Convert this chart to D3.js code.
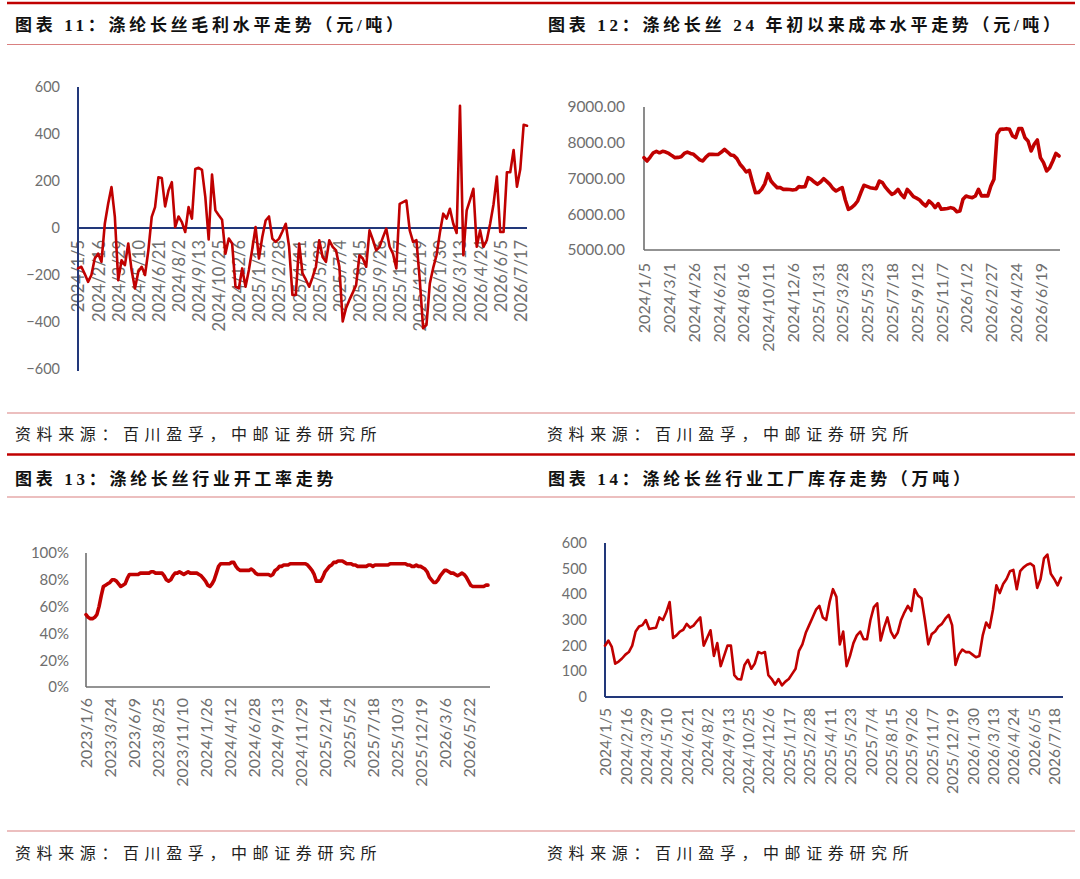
<!DOCTYPE html>
<html>
<head>
<meta charset="utf-8">
<script src="https://cdn.jsdelivr.net/npm/d3@7"></script>
<style>
  html, body { margin: 0; padding: 0; background: #fff; }
  svg { display: block; }
</style>
</head>
<body>
<svg id="chart" width="1080" height="879"></svg>
<script>
// ---------------- DATA ----------------
const titles = [
  "图表 11：涤纶长丝毛利水平走势（元/吨）",
  "图表 12：涤纶长丝 24 年初以来成本水平走势（元/吨）",
  "图表 13：涤纶长丝行业开工率走势",
  "图表 14：涤纶长丝行业工厂库存走势（万吨）"
];
const sourceText = "资料来源：百川盈孚，中邮证券研究所";

// Chart 11: gross margin (yuan/ton), weekly
const marginLabels = ["2024/1/5","2024/2/16","2024/3/29","2024/5/10","2024/6/21","2024/8/2","2024/9/13","2024/10/25","2024/12/6","2025/1/17","2025/2/28","2025/4/11","2025/5/23","2025/7/4","2025/8/15","2025/9/26","2025/11/7","2025/12/19","2026/1/30","2026/3/13","2026/4/24","2026/6/5","2026/7/17"];
const marginTicks = [-600,-400,-200,0,200,400,600];
const marginValues = [
  -172,-165,-195,-229,-200,-130,-109,-144,18,103,
  174,47,-222,-137,-158,-66,-180,-257,-186,-165,
  -200,-95,47,89,216,213,92,160,195,4,
  49,25,-17,89,40,251,256,247,131,-49,
  227,75,54,35,-109,-45,-66,-250,-257,-172,
  -250,-179,-90,4,-130,-38,32,49,-45,-59,
  -45,-15,18,-80,-285,-285,-66,-193,-220,-250,
  -210,-165,-52,-123,-144,-52,-80,-95,-165,-398,
  -340,-306,-275,-243,-116,-130,-165,-10,-50,-95,
  -80,-40,-3,-80,-109,-172,103,110,117,-10,
  -59,-52,-222,-426,-412,-236,-170,-116,-20,61,
  40,82,18,-21,520,-116,75,120,167,-80,
  -10,-80,-52,18,100,219,-17,-17,237,237,
  332,176,251,439,435
];

// Chart 12: cost level (yuan/ton), weekly since 2024
const costLabels = ["2024/1/5","2024/3/1","2024/4/26","2024/6/21","2024/8/16","2024/10/11","2024/12/6","2025/1/31","2025/3/28","2025/5/23","2025/7/18","2025/9/12","2025/11/7","2026/1/2","2026/2/27","2026/4/24","2026/6/19"];
const costTicks = [5000,6000,7000,8000,9000];
const costValues = [
  7583,7490,7600,7720,7760,7720,7760,7740,7700,7640,
  7583,7590,7611,7700,7741,7700,7676,7600,7520,7490,
  7600,7676,7680,7670,7676,7740,7816,7740,7660,7640,
  7555,7400,7300,7182,7228,6900,6604,6610,6700,6850,
  7135,6930,6830,6744,6744,6697,6700,6690,6678,6690,
  6772,6760,6772,7023,6977,6900,6837,6900,6995,6920,
  6837,6720,6650,6700,6744,6400,6138,6185,6260,6371,
  6600,6809,6780,6744,6730,6716,6930,6884,6750,6650,
  6557,6600,6697,6560,6464,6697,6600,6492,6450,6399,
  6300,6231,6371,6300,6185,6296,6138,6150,6160,6185,
  6160,6073,6091,6418,6511,6480,6464,6511,6697,6511,
  6520,6511,6790,6977,8235,8375,8380,8394,8375,8189,
  8142,8394,8394,8142,8049,7769,7956,8077,7583,7443,
  7210,7303,7490,7704,7630
];

// Chart 13: operating rate (%), weekly since 2023
const rateLabels = ["2023/1/6","2023/3/24","2023/6/9","2023/8/25","2023/11/10","2024/1/26","2024/4/12","2024/6/28","2024/9/13","2024/11/29","2025/2/14","2025/5/2","2025/7/18","2025/10/3","2025/12/19","2026/3/6","2026/5/22"];
const rateTicks = [0,20,40,60,80,100];
const rateValues = [
  54,52,51,51,52,54,60,68,75,76,
  77,78,80,80,79,77,75,76,77,81,
  84,84,84,84,84,85,85,85,85,85,
  86,86,85,85,85,85,83,80,79,80,
  83,85,85,86,85,84,85,86,85,85,
  85,85,84,83,81,79,76,75,77,80,
  85,90,92,92,92,92,92,93,93,90,
  88,87,87,87,87,87,88,87,85,84,
  84,84,84,84,84,83,84,87,88,90,
  90,91,91,91,92,92,92,92,92,92,
  92,92,91,89,87,84,79,79,79,82,
  86,88,90,91,93,93,94,94,94,93,
  92,92,92,91,91,90,90,90,90,90,
  91,91,90,91,91,91,91,91,91,91,
  92,92,92,92,92,92,92,92,91,91,
  90,90,91,90,90,89,88,86,82,80,
  78,78,80,83,85,87,87,86,85,85,
  84,83,84,85,84,82,79,76,75,75,
  75,75,75,75,76,76
];

// Chart 14: factory inventory (10k tons), weekly
const stockLabels = ["2024/1/5","2024/2/16","2024/3/29","2024/5/10","2024/6/21","2024/8/2","2024/9/13","2024/10/25","2024/12/6","2025/1/17","2025/2/28","2025/4/11","2025/5/23","2025/7/4","2025/8/15","2025/9/26","2025/11/7","2025/12/19","2026/1/30","2026/3/13","2026/4/24","2026/6/5","2026/7/18"];
const stockTicks = [0,100,200,300,400,500,600];
const stockValues = [
  200,220,195,130,138,150,165,175,200,255,
  275,280,300,265,268,270,310,300,330,370,
  230,240,255,262,285,270,278,295,310,200,
  230,260,160,210,120,160,200,200,85,70,
  68,125,145,110,130,175,170,175,85,70,
  48,70,45,60,70,90,110,180,205,250,
  280,310,340,355,310,300,370,420,390,205,
  255,120,160,210,240,255,225,225,300,350,
  365,220,270,310,255,230,250,300,330,355,
  335,420,395,385,300,205,245,255,275,285,
  305,320,280,125,165,185,175,175,165,155,
  160,240,290,270,340,435,405,440,460,490,
  495,420,490,505,515,520,510,425,460,540,
  555,480,460,435,465
];

// ---------------- DRAW ----------------
const svg = d3.select("#chart");
const RED = "#C00000";
const NAVY = "#22387A";
const LABEL = "#6E6E6E";
const TICK_FONT = "Lato, 'Open Sans', sans-serif";

// Frame / header lines
function hline(y, x1, x2, color, w) {
  svg.append("line").attr("x1", x1).attr("x2", x2).attr("y1", y).attr("y2", y)
    .attr("stroke", color).attr("stroke-width", w);
}
hline(3, 7, 1075, RED, 2.5);
hline(44.5, 7, 1075, "#D98080", 1.2);
hline(413, 7, 1075, "#D98080", 1.2);
hline(454.5, 7, 1075, RED, 2.5);
hline(497, 7, 1075, "#D98080", 1.2);
hline(831, 7, 1075, "#D98080", 1.2);

function title(txt, x, y) {
  svg.append("text").attr("x", x).attr("y", y).text(txt)
    .attr("font-family", "'Liberation Serif', 'Noto Sans CJK SC', serif")
    .attr("font-weight", 700).attr("font-size", 17).attr("letter-spacing", 3.7)
    .attr("fill", "#111");
}
function source(x, y) {
  svg.append("text").attr("x", x).attr("y", y).text(sourceText)
    .attr("font-family", "'Liberation Serif', 'Noto Sans CJK SC', serif")
    .attr("font-weight", 400).attr("font-size", 16).attr("letter-spacing", 5.6)
    .attr("fill", "#222");
}
title(titles[0], 15, 31);
title(titles[1], 548, 31);
title(titles[2], 15, 485);
title(titles[3], 548, 485);
source(15, 440);
source(547, 440);
source(15, 859);
source(547, 859);

function drawChart(cfg) {
  const g = svg.append("g");
  const n = cfg.values.length;
  const x = d3.scaleLinear().domain([0, n - 1]).range([cfg.x0, cfg.x1]);
  const y = d3.scaleLinear().domain(cfg.yDomain).range([cfg.yBottom, cfg.yTop]);

  // y axis labels
  const ya = g.append("g").attr("transform", `translate(${cfg.x0},0)`)
    .call(d3.axisLeft(y).tickValues(cfg.yTicks).tickSize(0).tickPadding(cfg.x0 - cfg.yLabelRight).tickFormat(cfg.yFormat));
  ya.select(".domain").remove();
  ya.selectAll("text").attr("font-family", TICK_FONT).attr("font-size", cfg.yFont).attr("fill", LABEL);

  // x axis labels (rotated)
  const tickIdx = cfg.labels.map((d, i) => i * cfg.step);
  const xa = g.append("g").attr("transform", `translate(0,${y(cfg.xAxisAt)})`)
    .call(d3.axisBottom(x).tickValues(tickIdx).tickSize(0).tickFormat((d, i) => cfg.labels[i]));
  xa.select(".domain").remove();
  xa.selectAll("text")
    .attr("font-family", TICK_FONT).attr("font-size", cfg.xFont).attr("fill", LABEL)
    .attr("transform", "rotate(-90)")
    .attr("text-anchor", "end")
    .attr("x", -cfg.xLabelGap).attr("y", 0).attr("dy", "0.36em");

  // axis lines
  g.append("line").attr("x1", cfg.x0).attr("x2", cfg.x0)
    .attr("y1", cfg.yTop).attr("y2", cfg.yAxisEnd)
    .attr("stroke", cfg.axisColor).attr("stroke-width", cfg.axisWidth);
  g.append("line").attr("x1", cfg.x0).attr("x2", cfg.xAxisEnd)
    .attr("y1", y(cfg.xAxisAt)).attr("y2", y(cfg.xAxisAt))
    .attr("stroke", cfg.axisColor).attr("stroke-width", cfg.axisWidth);

  // data line
  const line = d3.line().x((d, i) => x(i)).y(d => y(d));
  g.append("path").datum(cfg.values).attr("d", line)
    .attr("fill", "none").attr("stroke", RED).attr("stroke-width", cfg.lineWidth)
    .attr("stroke-linejoin", "round").attr("stroke-linecap", "round");
}

drawChart({
  values: marginValues, labels: marginLabels, step: 6,
  x0: 78, x1: 527, xAxisEnd: 527,
  yDomain: [-600, 600], yTop: 87, yBottom: 369, yAxisEnd: 371,
  yTicks: marginTicks, yFormat: d3.format("d"), yLabelRight: 60, yFont: 14.5,
  xAxisAt: 0, xLabelGap: 12, xFont: 16.5,
  axisColor: NAVY, axisWidth: 2, lineWidth: 2.6
});

drawChart({
  values: costValues, labels: costLabels, step: 8,
  x0: 644, x1: 1059, xAxisEnd: 1060,
  yDomain: [5000, 9000], yTop: 107, yBottom: 250, yAxisEnd: 250,
  yTicks: costTicks, yFormat: d3.format(".2f"), yLabelRight: 625, yFont: 15.5,
  xAxisAt: 5000, xLabelGap: 13, xFont: 16,
  axisColor: "#6F6F6F", axisWidth: 1.6, lineWidth: 3.6
});

drawChart({
  values: rateValues, labels: rateLabels, step: 11,
  x0: 86, x1: 488, xAxisEnd: 490,
  yDomain: [0, 100], yTop: 553, yBottom: 687, yAxisEnd: 687,
  yTicks: rateTicks, yFormat: d => d + "%", yLabelRight: 69, yFont: 15,
  xAxisAt: 0, xLabelGap: 11, xFont: 16,
  axisColor: "#6F6F6F", axisWidth: 1.6, lineWidth: 3.6
});

drawChart({
  values: stockValues, labels: stockLabels, step: 6,
  x0: 605, x1: 1061, xAxisEnd: 1063,
  yDomain: [0, 600], yTop: 543, yBottom: 697, yAxisEnd: 697,
  yTicks: stockTicks, yFormat: d3.format("d"), yLabelRight: 587, yFont: 14.5,
  xAxisAt: 0, xLabelGap: 11, xFont: 15.5,
  axisColor: NAVY, axisWidth: 2, lineWidth: 2.6
});
</script>
</body>
</html>
